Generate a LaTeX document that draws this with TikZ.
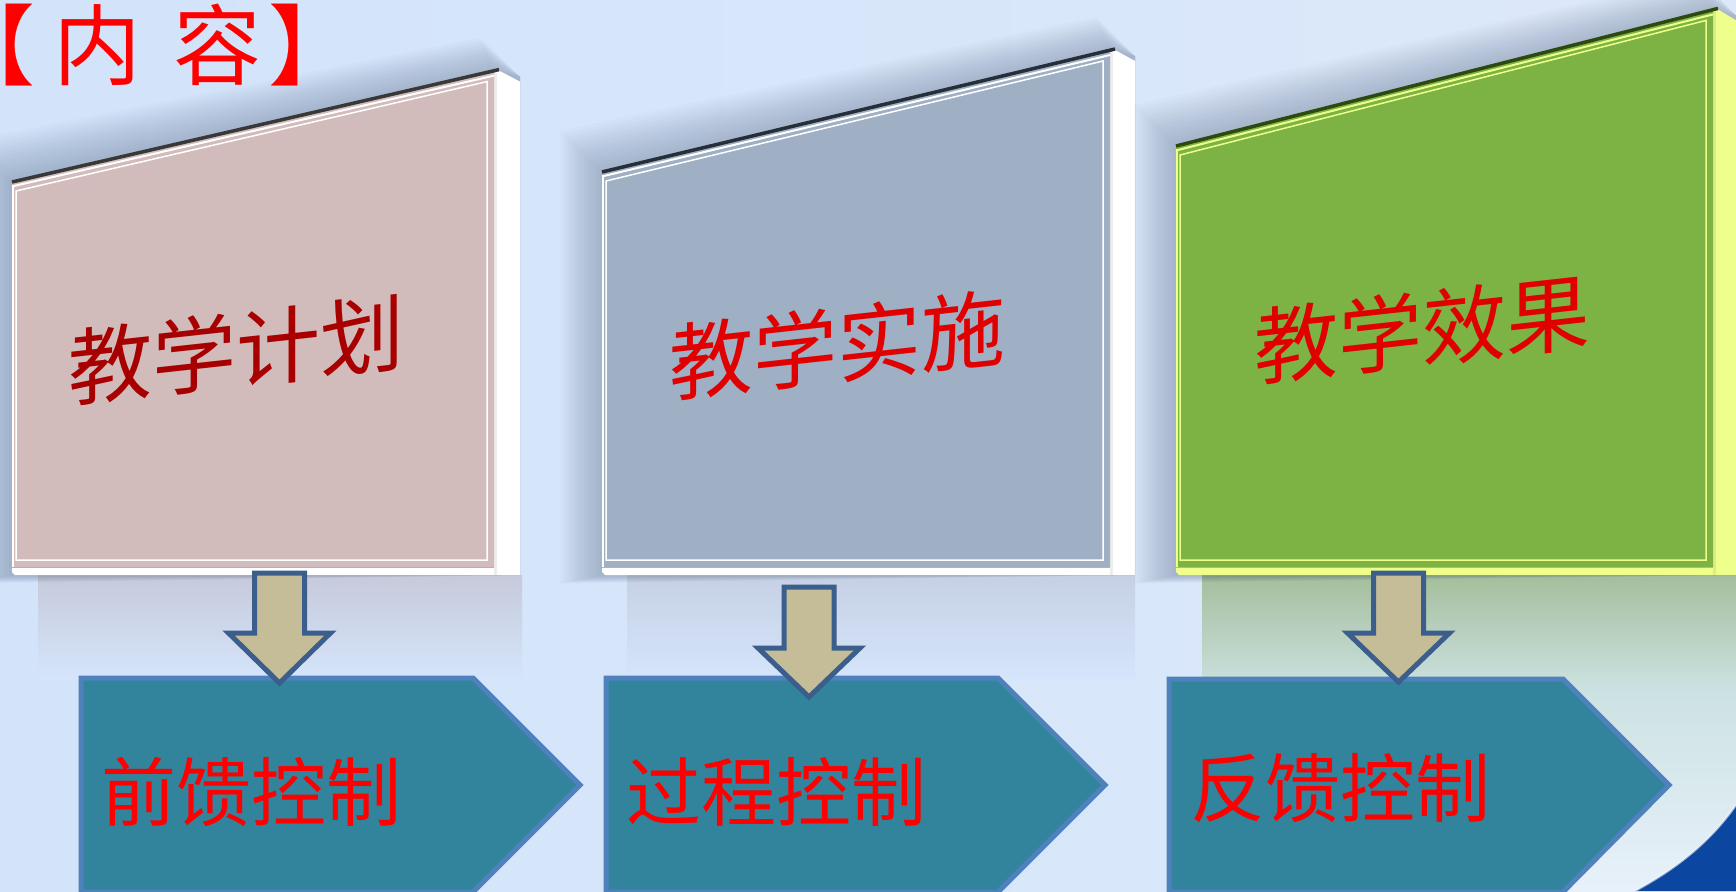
\documentclass[tikz,border=0pt]{standalone}
\usepackage{fontspec}
\newfontfamily\cjk{Noto Sans CJK SC}
\usetikzlibrary{calc}
\definecolor{bgL}{HTML}{D2E3FA}
\definecolor{bgR}{HTML}{DDE9FA}
\definecolor{bg}{HTML}{D5E5FB}
\definecolor{shadowc}{HTML}{1F3050}
\definecolor{face1}{HTML}{D2BCBB}
\definecolor{face2}{HTML}{9FAFC4}
\definecolor{face3}{HTML}{7DB344}
\definecolor{frame3}{HTML}{EEFF8C}
\definecolor{edge1}{HTML}{383838}
\definecolor{edge2}{HTML}{262E38}
\definecolor{edge3}{HTML}{2C4A10}
\definecolor{refl1}{HTML}{C6CADB}
\definecolor{refl2}{HTML}{C6D0E4}
\definecolor{refl3}{HTML}{A4BE9C}
\definecolor{refl3m}{HTML}{CCE2E2}
\definecolor{refl3b}{HTML}{E8F1FB}
\definecolor{pentfill}{HTML}{31849B}
\definecolor{pentline}{HTML}{4F81BD}
\definecolor{arrfill}{HTML}{C4BD97}
\definecolor{arrline}{HTML}{3B5E8C}
\definecolor{swoosh}{HTML}{0B47A1}
\definecolor{darkred}{HTML}{A80000}
\definecolor{midred}{HTML}{E00000}
\newcommand\panelshape[9]{%
  \foreach \k in {1,...,14}{
    \fill[shadowc,opacity=0.02] ({#1-3*\k},{#2-3*\k}) -- ({#3-\k},{#4-2.5*\k}) -- ({#3+#6},{#4+4}) -- ({#3+#6},{#5+8}) -- ({#1-3*\k},{#5+8+0.6*\k}) -- cycle;
  }
  \fill[#8] ({#3-3},{#4+2}) -- ({#3+5},{#4-2}) -- ({#3+#6},{#4+9}) -- ({#3+#6},{#5+8}) -- ({#1+3},{#5+8}) -- ({#1},{#5+5}) -- ({#1},{#5}) -- ({#3-3},{#5}) -- cycle;
  \fill[black,opacity=0.07] ({#3},{#4+1}) -- ({#3+3},{#4}) -- ({#3+3},{#5+8}) -- ({#3},{#5+8}) -- cycle;
  \fill[#7] (#1,#2) -- (#3,#4) -- (#3,#5) -- (#1,#5) -- cycle;
  \draw[#8, line width=2] ({#1+1},{#2+2}) -- ({#1+1},{#5});
  \draw[gray!60, line width=1] (#1,#5) -- (#3,#5);
  \draw[#9, line width=3.5] ({#1},{#2-1}) -- ({#3+5},{#4-3});
  \draw[#8, line width=2] ({#1+2},{#2+3}) -- ({#3},{#4+3});
  \draw[#8, line width=1.5] ({#1+4},{#2+8}) -- ({#3-7},{#4+9}) -- ({#3-7},{#5-7}) -- ({#1+4},{#5-7}) -- cycle;
}
\tikzset{
  pent/.style={fill=pentfill, draw=pentline, line width=5, line join=miter},
  blockarr/.style={fill=arrfill, draw=arrline, line width=5, line join=miter},
  boardtext/.style={font=\cjk\fontsize{84}{84}\selectfont, yslant=0.11, inner sep=0},
  ctrltext/.style={font=\cjk\fontsize{75}{75}\selectfont, text=red, inner sep=0},
}
\newcommand\blockarrow[5]{%
  % #1 name, #2 cx, #3 top, #4 wing y, #5 tip y
  \coordinate (#1-top) at (#2,#3);
  \coordinate (#1-tip) at (#2,#5);
  \draw[blockarr] ({#2-25},#3) -- ({#2+25},#3) -- ({#2+25},#4) -- ({#2+51},#4) -- (#1-tip) -- ({#2-51},#4) -- ({#2-25},#4) -- cycle;
}
\begin{document}
\begin{tikzpicture}[x=1pt,y=-1pt]
\useasboundingbox (0,0) rectangle (1736,891);
\clip (0,0) rectangle (1736,891);
% background
\shade[left color=bgL, right color=bgR] (0,0) rectangle (1736,891);
% reflections below the boards
\shade[top color=refl1, bottom color=bg] (38,575) rectangle (522,680);
\shade[top color=refl2, bottom color=bg] (627,575) rectangle (1135,680);
\shade[top color=refl3, bottom color=refl3m] (1202,575) rectangle (1736,690);
\shade[top color=refl3m, bottom color=refl3b] (1202,690) rectangle (1736,891);
% boards
\panelshape{12}{183}{494}{72.6}{567}{26}{face1}{white}{edge1}
\panelshape{602}{173}{1110}{52}{567}{25}{face2}{white}{edge2}
\panelshape{1176}{147}{1713}{11.4}{567}{23}{face3}{frame3}{edge3}
% swoosh
\fill[swoosh] (1736,805) .. controls (1708,845) and (1672,871) .. (1635,891) -- (1736,891) -- cycle;
\draw[white, opacity=0.6, line width=2] (1736,805) .. controls (1708,845) and (1672,871) .. (1635,891);
% pentagons
\draw[pent] (81,678) -- (473,678) -- (580,785) -- (473,892) -- (81,892) -- cycle;
\draw[pent] (606,678) -- (998,678) -- (1105,785) -- (998,892) -- (606,892) -- cycle;
\draw[pent] (1169,679) -- (1563,679) -- (1669,785) -- (1563,892) -- (1169,892) -- cycle;
% block arrows
\blockarrow{a1}{279.5}{573}{633}{683}
\blockarrow{a2}{809}{587}{648}{697}
\blockarrow{a3}{1398.5}{573}{633}{682}
% texts
\node[boardtext, text=darkred] (b1) at (236,350) {教学计划};
\node[boardtext, text=midred] (b2) at (837,345) {教学实施};
\node[boardtext, text=midred] (b3) at (1422,329) {教学效果};
\node[ctrltext] (c1) at (251,792) {前馈控制};
\node[ctrltext] (c2) at (776,792) {过程控制};
\node[ctrltext] (c3) at (1340,788) {反馈控制};
\node[anchor=west, text=red, inner sep=0, font=\cjk\fontsize{88}{88}\selectfont] (title) at (-53,45) {【\hspace{18pt}内 \hspace{13pt}容\hspace{7pt}】};
\end{tikzpicture}
\end{document}
